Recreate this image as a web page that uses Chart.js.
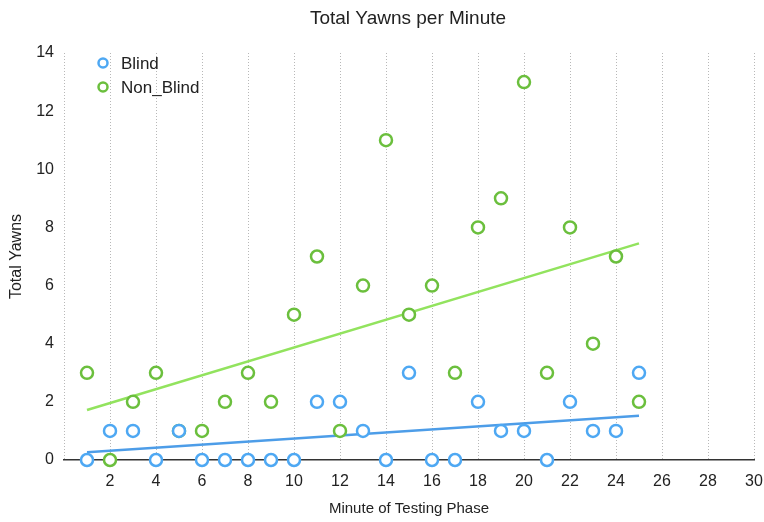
<!DOCTYPE html>
<html>
<head>
<meta charset="utf-8">
<script src="https://cdn.jsdelivr.net/npm/chart.js@4"></script>
<style>
  html, body { margin: 0; padding: 0; background: #fff; }
  #wrap { width: 764px; height: 522px; }
</style>
</head>
<body>
<div id="wrap"><canvas id="yawnChart" width="764" height="522"></canvas></div>
<script>
// Data
const minutes       = [1,2,3,4,5,6,7,8,9,10,11,12,13,14,15,16,17,18,19,20,21,22,23,24,25];
const blindYawns    = [0,1,1,0,1,0,0,0,0,0,2,2,1,0,3,0,0,2,1,1,0,2,1,1,3];
const nonBlindYawns = [3,0,2,3,1,1,2,3,2,5,7,1,6,11,5,6,3,8,9,13,3,8,4,7,2];
// trend line ends (x = 1 and x = 25)
const trendX        = [1, 25];
const blindTrend    = [0.27, 1.52];
const nonBlindTrend = [1.72, 7.45];

const blue = "#4ea8f3";
const green = "#6bbf3d";
const fontFam = "'Liberation Sans', Arial, sans-serif";

function toPoints(xs, ys){ return xs.map((x, i) => ({x: x, y: ys[i]})); }

// title and legend drawn at fixed spots
const decor = {
  id: "decor",
  afterDraw(chart){
    const ctx = chart.ctx;
    ctx.save();
    ctx.fillStyle = "#222";
    ctx.font = "19px " + fontFam;
    ctx.textAlign = "center";
    ctx.textBaseline = "middle";
    ctx.fillText("Total Yawns per Minute", 408, 19);

    const items = [["Blind", blue, 63], ["Non_Blind", green, 87]];
    items.forEach(([label, color, y]) => {
      ctx.beginPath();
      ctx.arc(103, y, 4.5, 0, Math.PI * 2);
      ctx.fillStyle = "#fff";
      ctx.fill();
      ctx.lineWidth = 2.5;
      ctx.strokeStyle = color;
      ctx.stroke();
      ctx.fillStyle = "#222";
      ctx.font = "17px " + fontFam;
      ctx.textAlign = "left";
      ctx.fillText(label, 121, y + 1);
    });
    ctx.restore();
  }
};

const config = {
  type: "scatter",
  data: {
    datasets: [
      {
        label: "Blind",
        data: toPoints(minutes, blindYawns),
        backgroundColor: "#fff",
        borderColor: blue,
        borderWidth: 2.5,
        pointRadius: 6,
        clip: false
      },
      {
        label: "Non_Blind",
        data: toPoints(minutes, nonBlindYawns),
        backgroundColor: "#fff",
        borderColor: green,
        borderWidth: 2.5,
        pointRadius: 6,
        clip: false
      },
      {
        label: "Blind trend",
        type: "line",
        data: toPoints(trendX, blindTrend),
        borderColor: "#4d9de8",
        borderWidth: 2.5,
        pointRadius: 0
      },
      {
        label: "Non_Blind trend",
        type: "line",
        data: toPoints(trendX, nonBlindTrend),
        borderColor: "#92e35e",
        borderWidth: 2.5,
        pointRadius: 0
      }
    ]
  },
  options: {
    responsive: false,
    animation: false,
    layout: { padding: { top: 53, right: 10, left: 0, bottom: 0 } },
    plugins: {
      legend: { display: false },
      title: { display: false },
      tooltip: { enabled: false }
    },
    scales: {
      x: {
        type: "linear",
        min: 0,
        max: 30,
        grid: { color: "#b8b8b8", lineWidth: 1, drawTicks: false },
        border: { display: true, color: "#333", width: 1.5, dash: [1, 2] },
        ticks: {
          stepSize: 2,
          padding: 12,
          color: "#222",
          font: { family: fontFam, size: 16 },
          callback: v => v === 0 ? "" : v
        },
        title: {
          display: true,
          text: "Minute of Testing Phase",
          color: "#222",
          font: { family: fontFam, size: 15 },
          padding: { top: 12 }
        },
        afterFit: s => { s.height = 62; s.paddingRight = 0; s.paddingLeft = 0; }
      },
      y: {
        min: 0,
        max: 14,
        grid: { display: false, drawTicks: false },
        border: { display: false },
        ticks: {
          stepSize: 2,
          padding: 10,
          color: "#222",
          font: { family: fontFam, size: 16 }
        },
        title: {
          display: true,
          text: "Total Yawns",
          color: "#222",
          font: { family: fontFam, size: 16 },
          padding: { top: 7, bottom: 0 }
        },
        afterFit: s => { s.width = 64; }
      }
    }
  },
  plugins: [decor]
};

new Chart(document.getElementById("yawnChart"), config);
</script>
</body>
</html>
